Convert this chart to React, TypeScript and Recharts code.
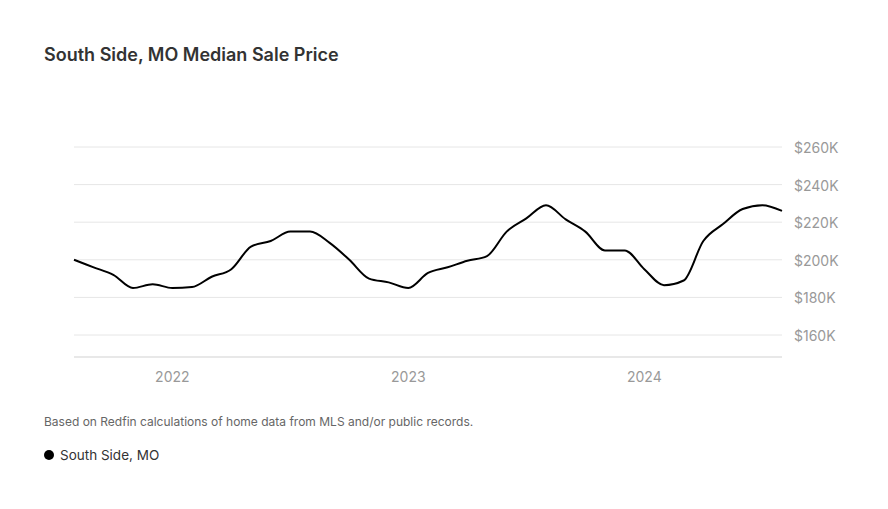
import React from "react";
import { LineChart, Line, XAxis, YAxis, CartesianGrid } from "recharts";

const months = [
  "2021-08", "2021-09", "2021-10", "2021-11", "2021-12",
  "2022-01", "2022-02", "2022-03", "2022-04", "2022-05", "2022-06",
  "2022-07", "2022-08", "2022-09", "2022-10", "2022-11", "2022-12",
  "2023-01", "2023-02", "2023-03", "2023-04", "2023-05", "2023-06",
  "2023-07", "2023-08", "2023-09", "2023-10", "2023-11", "2023-12",
  "2024-01", "2024-02", "2024-03", "2024-04", "2024-05", "2024-06",
  "2024-07", "2024-08",
];

// median sale price, thousands of dollars
const prices = [
  200, 196, 192, 185, 187, 185, 185.5, 191, 195, 207, 210,
  215, 215, 209, 200, 190, 188, 185, 193, 196, 199.5, 202,
  215, 222, 229, 221.5, 215, 205, 205, 195, 186.5, 189,
  210, 219, 227, 229, 226,
];

const priceTicks = [160, 180, 200, 220, 240, 260];

const data = months.map((m, i) => ({ month: m, price: prices[i] }));

const FONT = "Inter, 'Open Sans', sans-serif";

export default function App() {
  return (
    <div
      style={{
        position: "fixed",
        left: 0,
        top: 0,
        width: 888,
        height: 509,
        background: "#fff",
        fontFamily: FONT,
      }}
    >
      <div
        style={{
          position: "absolute",
          left: 44,
          top: 44,
          fontSize: 18,
          fontWeight: 600,
          color: "#333",
        }}
      >
        South Side, MO Median Sale Price
      </div>
      <div style={{ position: "absolute", left: 0, top: 0 }}>
        <LineChart
          width={888}
          height={509}
          data={data}
          margin={{ top: 147, right: 0, bottom: 122, left: 74 }}
        >
          <CartesianGrid vertical={false} stroke="#e6e6e6" />
          <XAxis
            dataKey="month"
            interval={0}
            height={30}
            tickLine={false}
            axisLine={{ stroke: "#e8e8e8", strokeWidth: 2 }}
            tickMargin={15}
            tickSize={0}
            tick={{ fill: "#999", fontSize: 14, fontFamily: FONT }}
            tickFormatter={(m: string) => (m.endsWith("-01") ? m.slice(0, 4) : "")}
          />
          <YAxis
            orientation="right"
            width={106}
            domain={[148.3, 260]}
            ticks={priceTicks}
            allowDataOverflow
            axisLine={false}
            tickLine={false}
            tickSize={0}
            tickMargin={12}
            tick={{ fill: "#999", fontSize: 14, fontFamily: FONT, textAnchor: "start", dy: 1 }}
            tickFormatter={(v: number) => `$${v}K`}
          />
          <Line
            type="monotone"
            dataKey="price"
            stroke="#000"
            strokeWidth={2}
            dot={false}
            isAnimationActive={false}
          />
        </LineChart>
      </div>
      <div
        style={{
          position: "absolute",
          left: 44,
          top: 414,
          fontSize: 12,
          color: "#666",
        }}
      >
        Based on Redfin calculations of home data from MLS and/or public records.
      </div>
      <div
        style={{
          position: "absolute",
          left: 44,
          top: 447,
          fontSize: 13.5,
          color: "#333",
          display: "flex",
          alignItems: "center",
        }}
      >
        <span
          style={{
            display: "inline-block",
            width: 10,
            height: 10,
            borderRadius: 5,
            background: "#000",
            marginRight: 6,
          }}
        />
        South Side, MO
      </div>
    </div>
  );
}
